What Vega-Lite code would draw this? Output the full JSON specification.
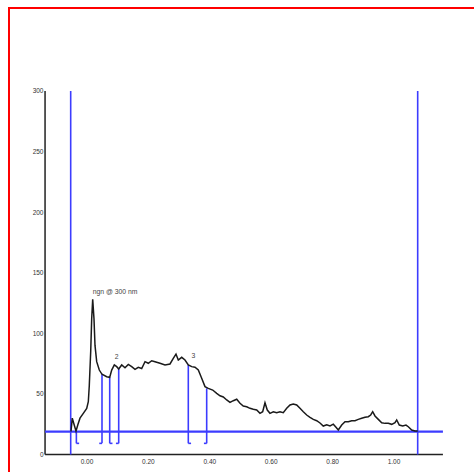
{
  "$schema": "https://vega.github.io/schema/vega-lite/v6.json",
  "autosize": {"type": "none"},
  "padding": {"left": 9, "top": 8, "right": 0, "bottom": 0},
  "width": 470,
  "height": 470,
  "background": "white",
  "config": {
    "view": {"stroke": "#ff0000", "strokeWidth": 2},
    "axis": {"grid": false, "domain": false, "ticks": false, "labelFont": "Liberation Sans", "labelFontSize": 6.5, "labelColor": "#333333", "title": null}
  },
  "datasets": {
    "curve": [
      {"x": -0.0505, "y": 19}, {"x": -0.0463, "y": 30}, {"x": -0.0407, "y": 25}, {"x": -0.0342, "y": 19.4},
      {"x": -0.0277, "y": 25}, {"x": -0.0212, "y": 30}, {"x": -0.0104, "y": 34}, {"x": 0.0007, "y": 38},
      {"x": 0.0059, "y": 43.6}, {"x": 0.0091, "y": 57}, {"x": 0.0137, "y": 85}, {"x": 0.0169, "y": 112},
      {"x": 0.0202, "y": 128}, {"x": 0.0244, "y": 112}, {"x": 0.0277, "y": 90}, {"x": 0.0332, "y": 76.6},
      {"x": 0.0417, "y": 69.7}, {"x": 0.0505, "y": 66.2}, {"x": 0.0658, "y": 64.2}, {"x": 0.0756, "y": 63.7},
      {"x": 0.0821, "y": 69.7}, {"x": 0.0906, "y": 73.9}, {"x": 0.0984, "y": 72.5}, {"x": 0.1049, "y": 70.6},
      {"x": 0.1147, "y": 73.9}, {"x": 0.1254, "y": 71.6}, {"x": 0.1362, "y": 74.4}, {"x": 0.1472, "y": 72.5},
      {"x": 0.158, "y": 70.3}, {"x": 0.1687, "y": 72}, {"x": 0.1798, "y": 71}, {"x": 0.1906, "y": 76.6},
      {"x": 0.2013, "y": 75.3}, {"x": 0.2124, "y": 77.4}, {"x": 0.2231, "y": 76.6}, {"x": 0.2394, "y": 75.3},
      {"x": 0.2557, "y": 73.9}, {"x": 0.272, "y": 74.7}, {"x": 0.2827, "y": 79.4}, {"x": 0.2915, "y": 82.9},
      {"x": 0.299, "y": 78}, {"x": 0.3101, "y": 80.2}, {"x": 0.3208, "y": 78}, {"x": 0.3316, "y": 73.9},
      {"x": 0.3427, "y": 72.5}, {"x": 0.3534, "y": 72}, {"x": 0.3642, "y": 69.7}, {"x": 0.3752, "y": 62.9},
      {"x": 0.386, "y": 56}, {"x": 0.3967, "y": 54.6}, {"x": 0.4111, "y": 53.2}, {"x": 0.4241, "y": 50.5},
      {"x": 0.4349, "y": 48.5}, {"x": 0.4456, "y": 47.5}, {"x": 0.4567, "y": 45}, {"x": 0.4674, "y": 43},
      {"x": 0.4782, "y": 44.4}, {"x": 0.4893, "y": 45.6}, {"x": 0.5, "y": 42.3}, {"x": 0.5107, "y": 40},
      {"x": 0.5218, "y": 39.4}, {"x": 0.5326, "y": 38.1}, {"x": 0.5433, "y": 37.3}, {"x": 0.5544, "y": 36.7},
      {"x": 0.5651, "y": 34}, {"x": 0.5739, "y": 35.3}, {"x": 0.5814, "y": 42.7}, {"x": 0.5889, "y": 36.7},
      {"x": 0.5977, "y": 34}, {"x": 0.6085, "y": 35.3}, {"x": 0.6195, "y": 34.5}, {"x": 0.6303, "y": 35.3},
      {"x": 0.641, "y": 34.5}, {"x": 0.6521, "y": 38.1}, {"x": 0.6629, "y": 40.9}, {"x": 0.6736, "y": 41.7},
      {"x": 0.6847, "y": 40.9}, {"x": 0.6954, "y": 38.1}, {"x": 0.7062, "y": 35.3}, {"x": 0.7173, "y": 32.6},
      {"x": 0.728, "y": 30.7}, {"x": 0.7388, "y": 29}, {"x": 0.7498, "y": 27.9}, {"x": 0.7606, "y": 26},
      {"x": 0.7713, "y": 23.5}, {"x": 0.7824, "y": 24.5}, {"x": 0.7932, "y": 23.5}, {"x": 0.8039, "y": 25},
      {"x": 0.8127, "y": 22.5}, {"x": 0.8202, "y": 20.2}, {"x": 0.8313, "y": 24.3}, {"x": 0.842, "y": 27},
      {"x": 0.8528, "y": 27}, {"x": 0.8638, "y": 27.9}, {"x": 0.8746, "y": 27.9}, {"x": 0.8853, "y": 29},
      {"x": 0.8964, "y": 29.9}, {"x": 0.9072, "y": 30.7}, {"x": 0.9179, "y": 31.2}, {"x": 0.9257, "y": 32.6},
      {"x": 0.9322, "y": 35.3}, {"x": 0.9397, "y": 31.8}, {"x": 0.9505, "y": 29}, {"x": 0.9616, "y": 26.2},
      {"x": 0.9723, "y": 25.7}, {"x": 0.9831, "y": 25.7}, {"x": 0.9941, "y": 24.9}, {"x": 1.0049, "y": 26.2},
      {"x": 1.0104, "y": 28.5}, {"x": 1.0189, "y": 24.3}, {"x": 1.03, "y": 23.5}, {"x": 1.0407, "y": 24.3},
      {"x": 1.0482, "y": 22.9}, {"x": 1.0593, "y": 20.2}, {"x": 1.07, "y": 19.4}, {"x": 1.0788, "y": 19.4}
    ],
    "axisLines": [
      {"x": -0.135, "x2": -0.135, "y": 0, "y2": 300},
      {"x": -0.135, "x2": 1.161, "y": 0, "y2": 0}
    ],
    "blueLines": [
      {"x": -0.0515, "x2": -0.0515, "y": 0, "y2": 300},
      {"x": 1.0788, "x2": 1.0788, "y": 0, "y2": 300},
      {"x": -0.033, "x2": -0.033, "y": 18.8, "y2": 9.2},
      {"x": -0.033, "x2": -0.024, "y": 9.2, "y2": 9.2},
      {"x": 0.0505, "x2": 0.0505, "y": 66.2, "y2": 9.2},
      {"x": 0.0505, "x2": 0.0415, "y": 9.2, "y2": 9.2},
      {"x": 0.0756, "x2": 0.0756, "y": 63.7, "y2": 9.2},
      {"x": 0.0756, "x2": 0.0846, "y": 9.2, "y2": 9.2},
      {"x": 0.1049, "x2": 0.1049, "y": 70.6, "y2": 9.2},
      {"x": 0.1049, "x2": 0.0959, "y": 9.2, "y2": 9.2},
      {"x": 0.3316, "x2": 0.3316, "y": 73.9, "y2": 9.2},
      {"x": 0.3316, "x2": 0.3406, "y": 9.2, "y2": 9.2},
      {"x": 0.3915, "x2": 0.3915, "y": 54.6, "y2": 9.2},
      {"x": 0.3915, "x2": 0.3825, "y": 9.2, "y2": 9.2}
    ],
    "baseline": [
      {"x": -0.135, "x2": 1.161, "y": 18.8, "y2": 18.8}
    ],
    "titleLabel": [
      {"x": 0.0202, "y": 134.5, "text": "ngn @ 300 nm"}
    ],
    "peakLabels": [
      {"x": 0.0984, "y": 80.5, "text": "2"},
      {"x": 0.3485, "y": 81.3, "text": "3"}
    ]
  },
  "encoding": {
    "x": {"field": "x", "type": "quantitative", "scale": {"domain": [-0.25244, 1.2785], "nice": false, "zero": false},
      "axis": {"orient": "bottom", "offset": -23.5, "values": [0, 0.2, 0.4, 0.6, 0.8, 1.0], "format": ".2f", "labelPadding": 4}},
    "y": {"field": "y", "type": "quantitative", "scale": {"domain": [-19.39, 368.49], "nice": false, "zero": false},
      "axis": {"orient": "left", "offset": -36, "values": [0, 50, 100, 150, 200, 250, 300], "labelPadding": 2}}
  },
  "layer": [
    {
      "data": {"name": "axisLines"},
      "mark": {"type": "rule", "color": "#222222", "strokeWidth": 1.5},
      "encoding": {"x2": {"field": "x2"}, "y2": {"field": "y2"}}
    },
    {
      "data": {"name": "baseline"},
      "mark": {"type": "rule", "color": "#3c3cff", "strokeWidth": 2.2},
      "encoding": {"x2": {"field": "x2"}, "y2": {"field": "y2"}}
    },
    {
      "data": {"name": "blueLines"},
      "mark": {"type": "rule", "color": "#3c3cff", "strokeWidth": 1.6},
      "encoding": {"x2": {"field": "x2"}, "y2": {"field": "y2"}}
    },
    {
      "data": {"name": "curve"},
      "mark": {"type": "line", "color": "#1a1a1a", "strokeWidth": 1.5, "interpolate": "linear"},
      "encoding": {}
    },
    {
      "data": {"name": "titleLabel"},
      "mark": {"type": "text", "font": "Liberation Sans", "fontSize": 6.8, "color": "#444444", "baseline": "middle", "align": "left"},
      "encoding": {"text": {"field": "text"}}
    },
    {
      "data": {"name": "peakLabels"},
      "mark": {"type": "text", "font": "Liberation Sans", "fontSize": 6.8, "color": "#444444", "baseline": "middle", "align": "center"},
      "encoding": {"text": {"field": "text"}}
    }
  ]
}
